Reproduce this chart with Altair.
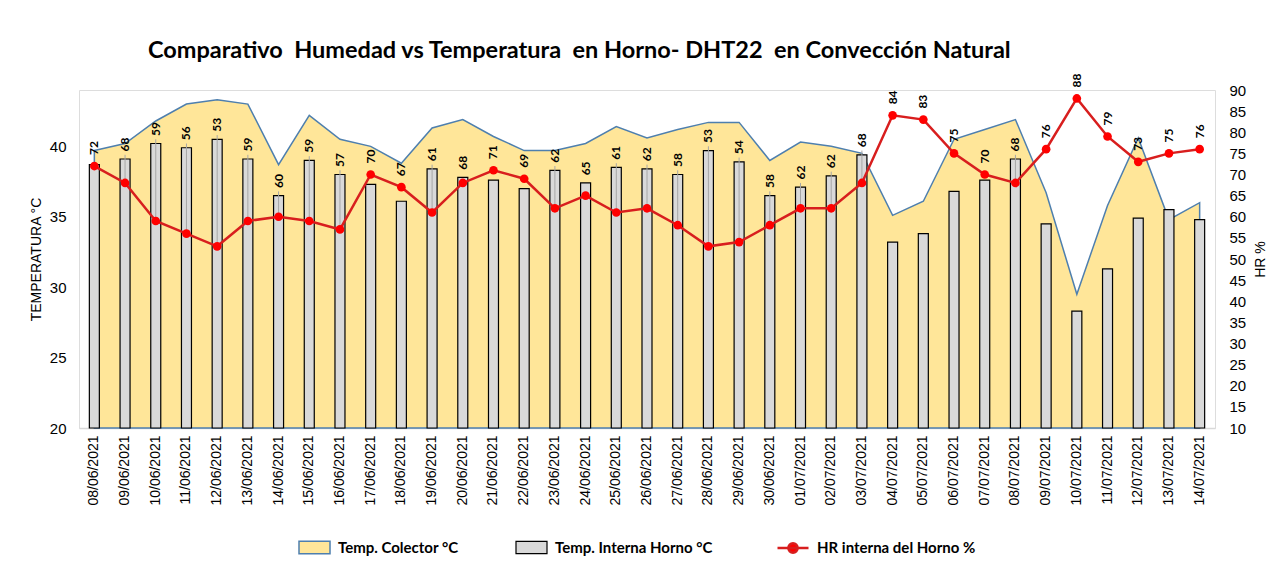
import altair as alt
import pandas as pd

fechas = ["08/06/2021", "09/06/2021", "10/06/2021", "11/06/2021", "12/06/2021", "13/06/2021",
          "14/06/2021", "15/06/2021", "16/06/2021", "17/06/2021", "18/06/2021", "19/06/2021",
          "20/06/2021", "21/06/2021", "22/06/2021", "23/06/2021", "24/06/2021", "25/06/2021",
          "26/06/2021", "27/06/2021", "28/06/2021", "29/06/2021", "30/06/2021", "01/07/2021",
          "02/07/2021", "03/07/2021", "04/07/2021", "05/07/2021", "06/07/2021", "07/07/2021",
          "08/07/2021", "09/07/2021", "10/07/2021", "11/07/2021", "12/07/2021", "13/07/2021",
          "14/07/2021"]

temp_colector = [39.7, 40.2, 41.8, 43.0, 43.3, 43.0, 38.7, 42.2, 40.5, 40.0, 38.8, 41.3,
                 41.9, 40.7, 39.7, 39.7, 40.2, 41.4, 40.6, 41.2, 41.7, 41.7, 39.0, 40.3,
                 40.0, 39.5, 35.1, 36.1, 40.5, 41.2, 41.9, 36.7, 29.5, 35.8, 40.6, 34.8,
                 36.0]

temp_interna = [38.7, 39.1, 40.2, 39.9, 40.5, 39.1, 36.5, 39.0, 38.0, 37.3, 36.1, 38.4,
                37.8, 37.6, 37.0, 38.3, 37.4, 38.5, 38.4, 38.0, 39.7, 38.9, 36.5, 37.1,
                37.9, 39.4, 33.2, 33.8, 36.8, 37.6, 39.1, 34.5, 28.3, 31.3, 34.9, 35.5,
                34.8]

hr_horno = [72, 68, 59, 56, 53, 59, 60, 59, 57, 70, 67, 61, 68, 71, 69, 62, 65, 61, 62, 58,
            53, 54, 58, 62, 62, 68, 84, 83, 75, 70, 68, 76, 88, 79, 73, 75, 76]

serie_colector = "Temp. Colector °C"
serie_interna = "Temp. Interna Horno °C"
serie_hr = "HR interna del Horno %"
titulo = "Comparativo\u00a0 Humedad vs Temperatura\u00a0 en Horno- DHT22\u00a0 en Convección Natural"

df = pd.DataFrame({"fecha": fechas, "tcol": temp_colector, "tint": temp_interna, "hr": hr_horno})
df["s1"] = serie_colector
df["s2"] = serie_interna
df["s3"] = serie_hr

FONT = "Lato"
RECT = "M-1,-0.4H1V0.4H-1Z"
LINEDOT = "M-1,0H1M0.3,0A0.3,0.3,0,1,1,-0.3,0A0.3,0.3,0,1,1,0.3,0Z"

x_scale = alt.Scale(paddingInner=0, paddingOuter=0)
x_axis = alt.Axis(labelAngle=270, labelFontSize=14, labelPadding=7, domainColor="#D9D9D9",
                  domainWidth=1.5, ticks=False, grid=False)


def xenc(center=True):
    if center:
        return alt.X("fecha:N", sort=None, title=None, scale=x_scale, axis=x_axis, bandPosition=0.5)
    return alt.X("fecha:N", sort=None, title=None, scale=x_scale, axis=x_axis)


left_scale = alt.Scale(domain=[20, 44], nice=False, zero=False)
right_scale = alt.Scale(domain=[10, 90], nice=False, zero=False)

left_axis = alt.Axis(orient="left", values=[20, 25, 30, 35, 40], title="TEMPERATURA °C",
                     grid=False, domain=False, ticks=False, tickSize=0, labelFontSize=15,
                     labelPadding=13, titleFontSize=14, titleFontWeight="normal", titlePadding=6)
right_axis = alt.Axis(orient="right", values=list(range(10, 95, 5)), title="HR %",
                      grid=False, domain=False, ticks=False, tickSize=0, labelFontSize=15,
                      labelPadding=14, titleFontSize=14, titleFontWeight="normal",
                      titleAngle=270, titleBaseline="top", titlePadding=8)

base = alt.Chart(df).transform_calculate(
    beq="10 + (datum.tint - 20) * 80 / 24",
).transform_calculate(
    anchor="max(datum.hr + 2.6, datum.beq + 1.8)",
    lead="max(datum.hr + 2.6, datum.beq + 1.8) - 0.8",
)

legend_common = dict(title=None, orient="none", padding=0, labelFont=FONT, labelFontSize=15,
                     labelFontWeight="bold", labelColor="#000000", labelOffset=7, symbolSize=961)
LEG_Y = 441

area = base.mark_area(stroke="#4E7FAE", strokeWidth=1.5, opacity=1, line=False).encode(
    x=xenc(True),
    y=alt.Y("tcol:Q", scale=left_scale, axis=left_axis),
    y2=alt.datum(20),
    fill=alt.Fill("s1:N", scale=alt.Scale(domain=[serie_colector], range=["#FFE699"]),
                  legend=alt.Legend(legendX=219, legendY=LEG_Y, symbolType=RECT,
                                    symbolStrokeColor="#4E7FAE", symbolStrokeWidth=1.5,
                                    **legend_common)),
)

bars = base.mark_bar(size=10, fill="#D9D9D9", strokeWidth=1.2, opacity=1).encode(
    x=xenc(False),
    y=alt.Y("tint:Q", scale=left_scale, axis=left_axis),
    y2=alt.datum(20),
    stroke=alt.Stroke("s2:N", scale=alt.Scale(domain=[serie_interna], range=["#000000"]),
                      legend=alt.Legend(legendX=436, legendY=LEG_Y, symbolType=RECT,
                                        symbolFillColor="#E3E3E3", symbolStrokeWidth=1.2,
                                        **legend_common)),
)

leaders = base.transform_filter("datum.beq > datum.hr + 3").mark_rule(
    color="#A6A6A6", strokeWidth=1).encode(
    x=xenc(True),
    y=alt.Y("hr:Q", scale=right_scale, axis=right_axis),
    y2="lead:Q",
)

line = base.mark_line(color="#D81E1E", strokeWidth=2.5).encode(
    x=xenc(True),
    y=alt.Y("hr:Q", scale=right_scale, axis=right_axis),
    opacity=alt.Opacity("s3:O", scale=alt.Scale(domain=[serie_hr], range=[1]),
                        legend=alt.Legend(legendX=697, legendY=LEG_Y, symbolType=LINEDOT,
                                          symbolStrokeColor="#D81E1E", symbolFillColor="#FF0000",
                                          symbolStrokeWidth=2.5, **legend_common)),
)

points = base.mark_circle(size=75, color="#FF0000", opacity=1).encode(
    x=xenc(True),
    y=alt.Y("hr:Q", scale=right_scale, axis=right_axis),
)

labels = base.mark_text(angle=270, align="left", baseline="middle", fontSize=12,
                        fontWeight="bold", font=FONT, color="#000000").encode(
    x=xenc(True),
    y=alt.Y("anchor:Q", scale=right_scale, axis=right_axis),
    text=alt.Text("hr:Q", format="d"),
)

left = alt.layer(area, bars)
right = alt.layer(leaders, line, points, labels)

chart = alt.layer(left, right).resolve_scale(y="independent").properties(
    width=1136,
    height=338,
    padding={"left": 71, "top": 82, "right": 55, "bottom": 128},
    autosize=alt.AutoSizeParams(type="none"),
    title=alt.Title(text=titulo, font=FONT, fontSize=23.5, fontWeight="bold", anchor="start",
                    dx=69, offset=11, frame="group", color="#000000"),
).configure_view(stroke=None).configure_axis(
    labelFont=FONT, titleFont=FONT, labelColor="#262626", titleColor="#262626",
    titleFontWeight="normal",
).configure(background="white")

chart.save("out.html", embed_options={"renderer": "svg", "actions": False})
